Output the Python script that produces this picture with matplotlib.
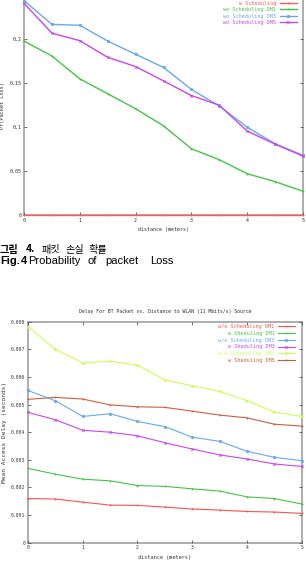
"""
Two gnuplot-style line charts (packet loss and BT delay) with a Korean caption.
"""

import matplotlib
matplotlib.use("Agg")
import matplotlib.pyplot as plt
from matplotlib.ticker import FormatStrFormatter

# ---- data -----------------------------------------------------------------
distance = [0, 0.5, 1, 1.5, 2, 2.5, 3, 3.5, 4, 4.5, 5]

loss_labels = ["w Scheduling", "wo Scheduling DM1", "wo Scheduling DM3", "wo Scheduling DM5"]
loss_w_sched = [0, 0, 0, 0, 0, 0, 0, 0, 0, 0, 0]
loss_wo_dm1 = [0.198, 0.181, 0.155, 0.138, 0.121, 0.1015, 0.0754, 0.063, 0.047, 0.038, 0.027]
loss_wo_dm3 = [0.244, 0.217, 0.216, 0.198, 0.183, 0.168, 0.143, 0.124, 0.100, 0.081, 0.068]
loss_wo_dm5 = [0.241, 0.207, 0.1985, 0.1795, 0.169, 0.1527, 0.136, 0.125, 0.0955, 0.0807, 0.067]

delay_labels = ["w/o Scheduling DM1", "w Sheduling DM1", "w/o Scheduling DM3",
                "w Sheduling DM3", "w/o Scheduling DM5", "w Sheduling DM5"]
delay_wo_dm1 = [0.00160, 0.00158, 0.00147, 0.00136, 0.00135, 0.00129, 0.00122, 0.00118, 0.00113, 0.00111, 0.00106]
delay_w_dm1 = [0.00269, 0.00248, 0.00230, 0.00224, 0.00207, 0.00204, 0.00195, 0.00187, 0.00166, 0.00160, 0.00140]
delay_wo_dm3 = [0.00551, 0.00514, 0.00457, 0.00467, 0.00439, 0.00420, 0.00382, 0.00367, 0.00331, 0.00309, 0.00297]
delay_w_dm3 = [0.00472, 0.00445, 0.00407, 0.00400, 0.00387, 0.00362, 0.00339, 0.00318, 0.00303, 0.00285, 0.00276]
delay_wo_dm5 = [0.00782, 0.00700, 0.00651, 0.00657, 0.00643, 0.00589, 0.00568, 0.00548, 0.00514, 0.00473, 0.00457]
delay_w_dm5 = [0.00519, 0.00526, 0.00520, 0.00499, 0.00492, 0.00490, 0.00476, 0.00462, 0.00452, 0.00429, 0.00422]

loss_yticks = [0, 0.05, 0.1, 0.15, 0.2]
delay_yticks = [0, 0.001, 0.002, 0.003, 0.004, 0.005, 0.006, 0.007, 0.008]
xticks = [0, 1, 2, 3, 4, 5]

# caption words (text, weight, x in px)
caption_kr = [("그림", "bold", 0), ("4.", "bold", 26), ("패킷", "normal", 42),
              ("손실", "normal", 65), ("확률", "normal", 88)]
caption_en = [("Fig.", "bold", 0), ("4", "bold", 21), ("Probability", "normal", 28),
              ("of", "normal", 88), ("packet", "normal", 105), ("Loss", "normal", 150)]

# ---- style ----------------------------------------------------------------
MONO = "DejaVu Sans Mono"
FRAME = "#a0a0a0"
TXT = "#333333"
colors_loss = ["#ff5a5a", "#44c444", "#66aaf0", "#cc44ee"]
markers_loss = ["+", "+", "s", "x"]
colors_delay = ["#ff5050", "#44c444", "#66aaf0", "#cc44ee", "#ccff55", "#c86040"]
markers_delay = ["+", "+", "o", "x", "*", "+"]

W, H = 306, 565


def style_axes(ax, tick_fs):
    for sp in ax.spines.values():
        sp.set_color(FRAME)
        sp.set_linewidth(1.2)
        sp.set_zorder(1)
    ax.tick_params(direction="in", length=2, width=0.6, color="#555555",
                   top=True, right=True, labelsize=tick_fs, labelcolor=TXT, pad=2)
    for lab in ax.get_xticklabels() + ax.get_yticklabels():
        lab.set_family(MONO)
    ax.yaxis.set_major_formatter(FormatStrFormatter("%g"))
    ax.set_facecolor("white")


fig = plt.figure(figsize=(W / 100, H / 100), dpi=100)

# ---- top chart: packet loss (its top is cut off) --------------------------
ax1 = fig.add_axes([24 / W, (H - 215) / H, 279 / W, (215 + 4.6) / H])
loss_series = [loss_w_sched, loss_wo_dm1, loss_wo_dm3, loss_wo_dm5]
for ys, lab, c, m in zip(loss_series, loss_labels, colors_loss, markers_loss):
    ax1.plot(distance, ys, color=c, lw=1.0, marker=m, ms=1.7, mew=0.6, label=lab,
             clip_on=False, zorder=5)
ax1.set_xlim(0, 5)
ax1.set_ylim(0, 0.25)
ax1.set_xticks(xticks)
ax1.set_yticks(loss_yticks)
style_axes(ax1, 3.6)
ax1.set_xlabel("distance (meters)", family=MONO, fontsize=3.6, color=TXT, labelpad=3)
ax1.set_ylabel("Pr(Packet Loss)", family=MONO, fontsize=3.8, color=TXT, labelpad=3)
leg1 = ax1.legend(loc="upper right", bbox_to_anchor=(297 / W, (H - 0.5) / H),
                  bbox_transform=fig.transFigure, frameon=False, markerfirst=False,
                  prop={"family": MONO, "size": 3.7}, handlelength=3.4,
                  handletextpad=0.6, labelspacing=0.3, borderpad=0, borderaxespad=0)
for t, c in zip(leg1.get_texts(), colors_loss):
    t.set_color(c)

# ---- caption --------------------------------------------------------------
CJK = ["Noto Sans CJK KR", "DejaVu Sans"]
for word, wt, x in caption_kr:
    fig.text(x / W, 1 - 249.5 / H, word, family=CJK, fontsize=7.3, weight=wt,
             va="center", ha="left")
for word, wt, x in caption_en:
    fig.text(x / W, 1 - 260.5 / H, word, family="Liberation Sans", fontsize=8,
             weight=wt, va="center", ha="left")

# ---- bottom chart: mean access delay --------------------------------------
ax2 = fig.add_axes([28 / W, (H - 542.7) / H, 273.7 / W, 221 / H])
delay_series = [delay_wo_dm1, delay_w_dm1, delay_wo_dm3, delay_w_dm3, delay_wo_dm5, delay_w_dm5]
for ys, lab, c, m in zip(delay_series, delay_labels, colors_delay, markers_delay):
    ax2.plot(distance, ys, color=c, lw=0.8, marker=m, ms=1.7, mew=0.6, label=lab,
             clip_on=False, zorder=5)
ax2.set_xlim(0, 5)
ax2.set_ylim(0, 0.008)
ax2.set_xticks(xticks)
ax2.set_yticks(delay_yticks)
style_axes(ax2, 3.4)
ax2.set_xlabel("distance (meters)", family=MONO, fontsize=3.8, color=TXT, labelpad=3)
ax2.set_ylabel("Mean Access Delay (seconds)", family=MONO, fontsize=4.4, color=TXT,
               labelpad=3)
fig.text(165 / W, 1 - 311.7 / H, "Delay For BT Packet vs. Distance to WLAN (11 Mbits/s) Source",
         family=MONO, fontsize=3.5, color=TXT, ha="center", va="center")
leg2 = ax2.legend(loc="upper right", bbox_to_anchor=(295 / W, 1 - 324 / H),
                  bbox_transform=fig.transFigure, frameon=False, markerfirst=False,
                  prop={"family": MONO, "size": 3.7}, handlelength=3.4,
                  handletextpad=0.6, labelspacing=0.35, borderpad=0, borderaxespad=0)
for t, c in zip(leg2.get_texts(), colors_delay):
    t.set_color(c)

fig.savefig("out.png", dpi=100, facecolor="white")
